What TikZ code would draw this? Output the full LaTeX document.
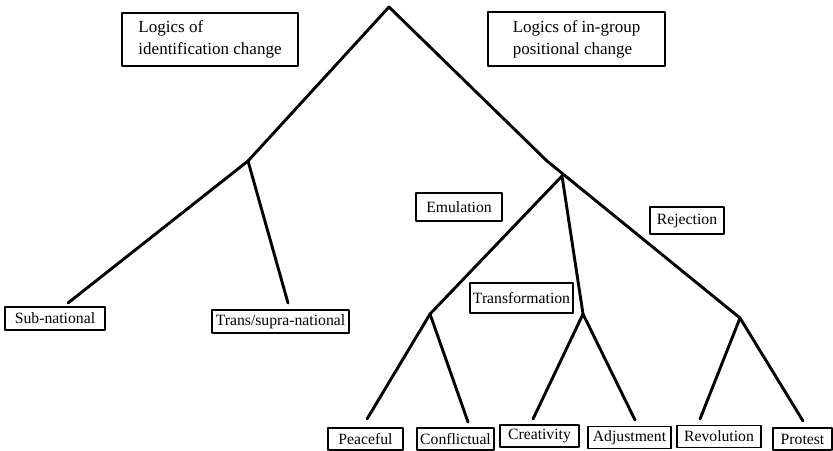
\documentclass[tikz,border=0pt]{standalone}
\usepackage{fontspec}
\setmainfont{Liberation Serif}
\begin{document}
\begin{tikzpicture}[x=0.5pt,y=-0.5pt,line join=round,line cap=round,
	font=\fontsize{7.85}{9.5}\selectfont,
	branch/.style={line width=1.45pt},
	lbl/.style={draw,line width=0.6pt,inner sep=0pt,minimum height=11.5pt},
	logic/.style={lbl,align=left,minimum height=26.5pt,font=\fontsize{8.5}{11}\selectfont}]
	\useasboundingbox (0,0) rectangle (833,450);
	% tree points
	\coordinate (top) at (389,7);
	\coordinate (lsplit) at (248,161);
	\coordinate (bend) at (547,161);
	\coordinate (esplit) at (562,176);
	\coordinate (rsplit) at (740,318);
	\coordinate (psplit) at (430,314);
	\coordinate (msplit) at (583,314);
	\coordinate (subend) at (68,303);
	\coordinate (transend) at (288,303);
	\coordinate (peend) at (367,419);
	\coordinate (coend) at (468,422);
	\coordinate (crend) at (533,419);
	\coordinate (adend) at (635,420);
	\coordinate (reend) at (700,419);
	\coordinate (prend) at (803,421);
	% labels
	\node[logic,minimum width=88pt] (idlogic) at (210,39.5) {Logics of\\identification change};
	\node[logic,minimum width=88.5pt,minimum height=27pt] (poslogic) at (576.5,39) {Logics of in-group\\positional change};
	\node[lbl,minimum width=50pt] (sub) at (55,318.5) {Sub-national};
	\node[lbl,minimum width=68.5pt] (trans) at (280.5,321.5) {Trans/supra-national};
	\node[lbl,minimum width=43pt,minimum height=14pt] (emul) at (459,207) {Emulation};
	\node[lbl,minimum width=37pt,minimum height=13.5pt] (rej) at (687,220.5) {Rejection};
	\node[lbl,minimum width=51.5pt,minimum height=15pt] (transf) at (521.5,298) {Transformation};
	\node[lbl,minimum width=37.5pt,minimum height=11pt] (peace) at (365.5,439) {Peaceful};
	\node[lbl,minimum width=38.5pt,minimum height=11pt] (confl) at (455.5,439) {Conflictual};
	\node[lbl,minimum width=39.5pt,minimum height=11pt] (creat) at (539.5,436) {Creativity};
	\node[lbl,minimum width=41.5pt,minimum height=11pt] (adj) at (629.5,437.5) {Adjustment};
	\node[lbl,minimum width=42pt,minimum height=11pt] (revol) at (719,436.5) {Revolution};
	\node[lbl,minimum width=29.5pt,minimum height=11pt] (prot) at (802.5,439) {Protest};
	% branches
	\draw[branch] (subend) -- (lsplit) -- (top) -- (bend) -- (rsplit);
	\draw[branch] (lsplit) -- (transend);
	\draw[branch] (psplit) -- (esplit) -- (msplit);
	\foreach \a/\b in {psplit/peend,psplit/coend,msplit/crend,msplit/adend,rsplit/reend,rsplit/prend}{
		\draw[branch] (\a) -- (\b);	}
\end{tikzpicture}
\end{document}
